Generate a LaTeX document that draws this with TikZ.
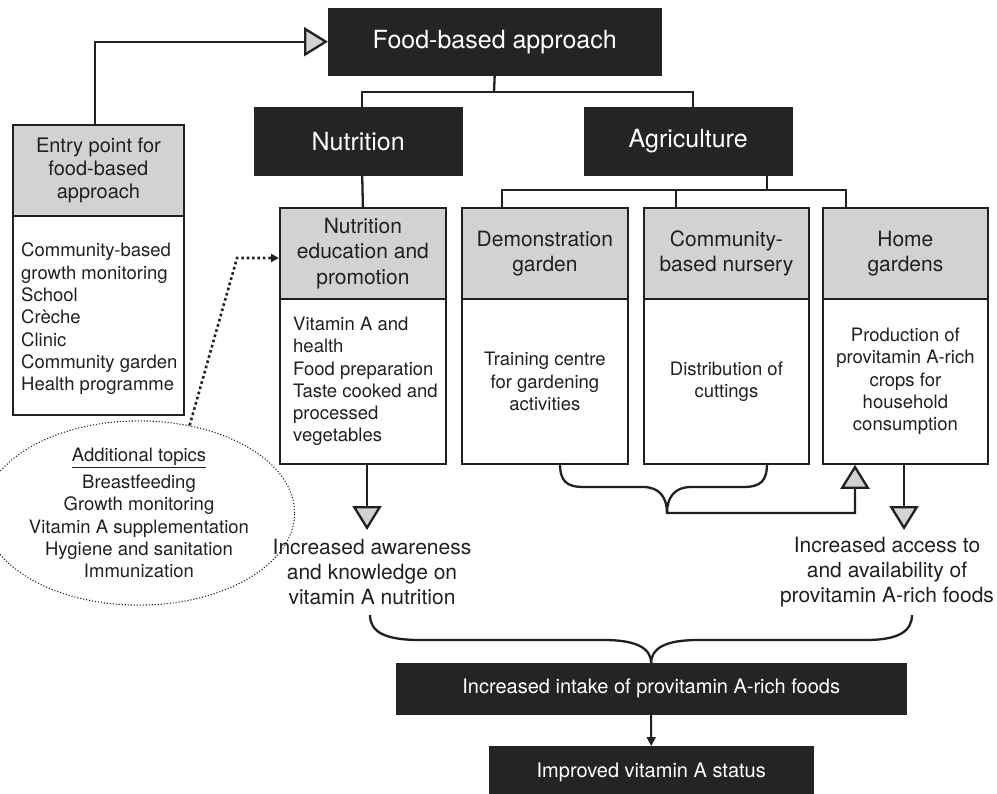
\documentclass[tikz,border=0pt]{standalone}
\usepackage{fontspec}
\setmainfont{TeX Gyre Heros}
\usetikzlibrary{arrows.meta,shapes.geometric}
\definecolor{blk}{HTML}{262324}
\definecolor{gry}{HTML}{D1D2D4}
\definecolor{ln}{HTML}{231F20}
\newcommand\FzBig{\fontsize{25bp}{30bp}\selectfont}
\newcommand\FzHdr{\fontsize{21bp}{25.5bp}\selectfont}
\newcommand\FzEnt{\fontsize{20bp}{23bp}\selectfont}
\newcommand\FzTxt{\fontsize{18.5bp}{22.3bp}\selectfont}
\newcommand\FzOut{\fontsize{21bp}{25bp}\selectfont}
\newcommand\FzBot{\fontsize{20bp}{24bp}\selectfont}
\begin{document}
\begin{tikzpicture}[x=1bp,y=-1bp,
  darkbox/.style={fill=blk, draw=blk, text=white, inner sep=0pt, anchor=north west, font=\FzBig},
  hdrbox/.style={fill=gry, draw=ln, line width=1.8bp, inner sep=0pt, anchor=north west, align=center, font=\FzHdr, text=ln},
  bodybox/.style={fill=white, draw=ln, line width=1.8bp, inner sep=0pt, anchor=north west, align=center, font=\FzTxt, text=ln},
  conn/.style={draw=ln, line width=2.3bp},
  bigtip/.style={-{Triangle[length=24bp,width=29bp,fill=gry]}},
  listtxt/.style={anchor=west, align=left, font=\FzTxt, inner sep=0pt, text=ln},
  outtxt/.style={align=center, font=\FzOut, inner sep=0pt, text=ln},
  dotarrow/.style={draw=ln, line width=2.6bp, dash pattern=on 2.6bp off 2.8bp, -{Triangle[length=8bp,width=8bp]}},
  smallarrow/.style={draw=ln, line width=2bp, -{Triangle[length=9bp,width=9bp]}},
]
\useasboundingbox (0,0) rectangle (997,794);

% top level
\node[darkbox, minimum width=333bp, minimum height=67bp] (food) at (328,8) {Food-based approach};
\node[darkbox, minimum width=208bp, minimum height=68bp] (nut) at (254,107) {Nutrition};
\node[darkbox, minimum width=208bp, minimum height=68bp] (agr) at (584,107) {Agriculture};

% entry point
\node[hdrbox, font=\FzEnt, minimum width=171bp, minimum height=91bp] (entryH) at (12,124) {Entry point for\\food-based\\approach};
\node[bodybox, minimum width=171bp, minimum height=199bp] (entryB) at (12,215) {};
\node[listtxt] (entryT) at (21,319) {Community-based\\growth monitoring\\School\\Crèche\\Clinic\\Community garden\\Health programme};

% four columns
\node[hdrbox, minimum width=166bp, minimum height=91bp] (nedH) at (279,207) {Nutrition\\education and\\promotion};
\node[bodybox, minimum width=166bp, minimum height=165bp] (nedB) at (279,298) {};
\node[listtxt] (nedT) at (293,381.5) {Vitamin A and\\health\\Food preparation\\Taste cooked and\\processed\\vegetables};

\node[hdrbox, minimum width=166bp, minimum height=91bp] (demH) at (461,207) {Demonstration\\garden};
\node[bodybox, minimum width=166bp, minimum height=165bp] (demB) at (461,298) {Training centre\\for gardening\\activities};

\node[hdrbox, minimum width=165bp, minimum height=91bp] (comH) at (643,207) {Community-\\based nursery};
\node[bodybox, minimum width=165bp, minimum height=165bp] (comB) at (643,298) {Distribution of\\cuttings};

\node[hdrbox, minimum width=165bp, minimum height=91bp] (homH) at (822,207) {Home\\gardens};
\node[bodybox, minimum width=165bp, minimum height=165bp] (homB) at (822,298) {Production of\\provitamin A-rich\\crops for\\household\\consumption};

% additional topics
\node[ellipse, draw=ln, line width=1.1bp, dash pattern=on 1.1bp off 1.9bp, minimum width=258bp, minimum height=178bp, inner sep=0pt, align=center, font=\FzTxt, text=ln] (topics) at (139,513)
  {\underline{Additional topics}\\[5bp]Breastfeeding\\Growth monitoring\\Vitamin A supplementation\\Hygiene and sanitation\\Immunization};

% outcomes
\node[outtxt] (aware) at (372,572) {Increased awareness\\and knowledge on\\vitamin A nutrition};
\node[outtxt] (access) at (887,572) {Increased access to\\and availability of\\provitamin A-rich foods};

\node[fill=blk, draw=blk, text=white, inner sep=0pt, anchor=north west, font=\FzBot, minimum width=510bp, minimum height=51bp] (intake) at (396,663) {Increased intake of provitamin A-rich foods};
\node[fill=blk, draw=blk, text=white, inner sep=0pt, anchor=north west, font=\FzBot, minimum width=324bp, minimum height=52bp] (improved) at (489,746) {Improved vitamin A status};

% connectors: top tree
\coordinate (fj) at (494,92);
\draw[conn] (food.south) -- (fj);
\draw[conn] ([xshift=4bp]nut.north) |- (fj) -| ([xshift=5bp]agr.north);
\draw[conn] ([xshift=4bp]nut.south) -- (nedH.north);

\coordinate (aj) at (767,190);
\coordinate (a1) at (502,190);
\coordinate (a2) at (676,190);
\coordinate (a3) at (846,190);
\draw[conn] (aj |- agr.south) -- (aj);
\draw[conn] (a1 |- demH.north) -- (a1) -- (a3) -- (a3 |- homH.north);
\draw[conn] (a2) -- (a2 |- comH.north);

% entry arrow
\draw[conn, bigtip] ([xshift=-3.5bp]entryH.north) |- (food.west);

% dotted arrow
\coordinate (dc) at (237,258);
\draw[dotarrow] (topics.60) -- (dc) -- (dc -| nedH.west);

% down arrows to outcomes
\coordinate (awtip) at (367,530);
\draw[conn, bigtip] (awtip |- nedB.south) -- (awtip);
\coordinate (actip) at (904,530);
\draw[conn, bigtip] (actip |- homB.south) -- (actip);

% small brace and up arrow
\coordinate (sbL) at (560,463);
\coordinate (sbR) at (767,463);
\coordinate (sbC) at (667,513);
\coordinate (ux) at (855,513);
\draw[conn] (sbL) .. controls (560,481) and (566,487) .. (584,487) -- (643,487) .. controls (660,487) and (667,498) .. (sbC);
\draw[conn, bigtip] (sbR) .. controls (767,481) and (761,487) .. (743,487) -- (691,487) .. controls (674,487) and (667,498) .. (sbC) -- (ux) -- (ux |- homB.south);

% big brace
\coordinate (bbL) at (370,615);
\coordinate (bbR) at (912,615);
\draw[conn] (bbL) .. controls (370,632) and (385,640) .. (420,640) -- (604,640) .. controls (636,640) and (651,648) .. (intake.north);
\draw[conn] (bbR) .. controls (912,632) and (897,640) .. (866,640) -- (698,640) .. controls (666,640) and (651,648) .. (intake.north);

% final arrow
\draw[smallarrow] (intake.south) -- (improved.north);
\end{tikzpicture}
\end{document}
